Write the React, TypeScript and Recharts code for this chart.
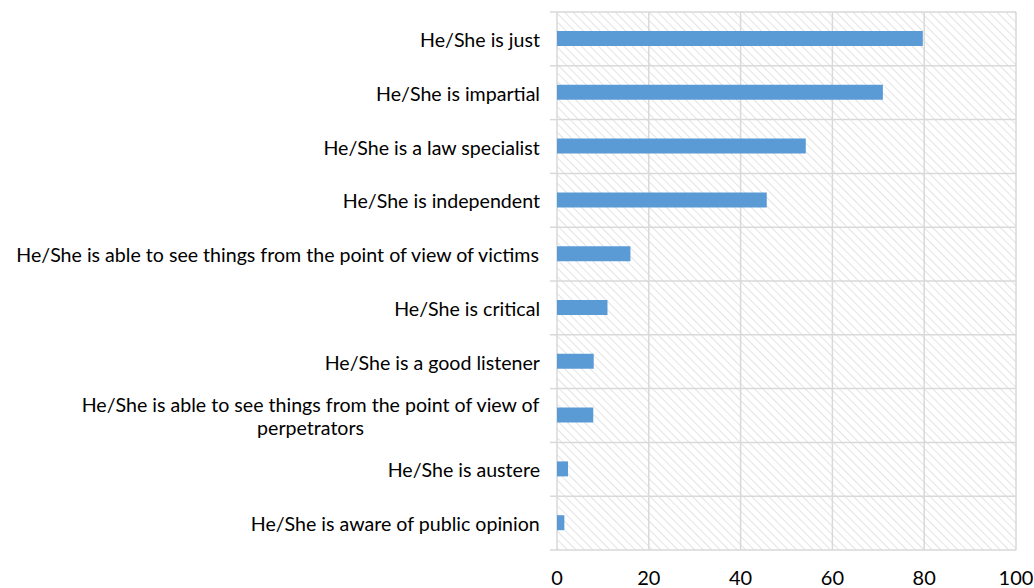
import React from 'react';
import { BarChart, Bar, XAxis, YAxis, CartesianGrid } from 'recharts';

const categories = [
  'He/She is just',
  'He/She is impartial',
  'He/She is a law specialist',
  'He/She is independent',
  'He/She is able to see things from the point of view of victims',
  'He/She is critical',
  'He/She is a good listener',
  'He/She is able to see things from the point of view of perpetrators',
  'He/She is austere',
  'He/She is aware of public opinion',
];
const values = [79.7, 71, 54.2, 45.7, 16, 11, 8, 7.9, 2.4, 1.6];
const xTicks = [0, 20, 40, 60, 80, 100];

const data = categories.map((name, i) => ({ name, value: values[i] }));

const FONT = 'Lato, "Open Sans", sans-serif';
const LABEL_SIZE = 19.6;
const LABEL_MAX = 545;
const LINE_H = 23;

let ctx: CanvasRenderingContext2D | null = null;
function measure(s: string): number {
  if (!ctx) ctx = document.createElement('canvas').getContext('2d');
  if (!ctx) return s.length * 8.5;
  ctx.font = `${LABEL_SIZE}px ${FONT}`;
  return ctx.measureText(s).width;
}

function wrap(label: string): string[] {
  const words = label.split(' ');
  const lines: string[] = [];
  let cur = '';
  for (const w of words) {
    const next = cur ? cur + ' ' + w : w;
    if (cur && measure(next) > LABEL_MAX) {
      lines.push(cur);
      cur = w;
    } else {
      cur = next;
    }
  }
  if (cur) lines.push(cur);
  return lines;
}

// right-aligned label block, wrapped lines centred on each other (like Excel)
function CategoryTick(props: any) {
  const { x, y, payload, index } = props;
  const lines = wrap(String(payload.value));
  const blockW = Math.max(...lines.map(measure));
  const cx = x - blockW / 2;
  const y0 = y - ((lines.length - 1) * LINE_H) / 2;
  const half = payload.offset ?? 26.9;
  return (
    <g>
      <line x1={x + 10} x2={x + 17} y1={y - half} y2={y - half} stroke="#d9d9d9" strokeWidth={1.5} />
      {index === categories.length - 1 && (
        <line x1={x + 10} x2={x + 17} y1={y + half} y2={y + half} stroke="#d9d9d9" strokeWidth={1.5} />
      )}
      <text textAnchor="middle" dominantBaseline="central" fontFamily={FONT} fontSize={LABEL_SIZE} fill="#000">
        {lines.map((l, i) => (
          <tspan key={i} x={cx} y={y0 + i * LINE_H}>
            {l}
          </tspan>
        ))}
      </text>
    </g>
  );
}

export default function App() {
  return (
    <div style={{ position: 'absolute', left: 0, top: 0, width: 1034, height: 588 }}>
      <BarChart
        layout="vertical"
        width={1034}
        height={588}
        data={data}
        margin={{ top: 12, right: 18, bottom: 0, left: 0 }}
      >
        <defs>
          <pattern id="hatch" width="6" height="6" patternUnits="userSpaceOnUse" patternTransform="rotate(-45)">
            <rect width="6" height="6" fill="#fff" />
            <line x1="0" y1="0" x2="0" y2="6" stroke="#dcdcdc" strokeWidth="1.6" />
          </pattern>
        </defs>
        <CartesianGrid
          fill="url(#hatch)"
          fillOpacity={1}
          stroke="#d9d9d9"
          strokeWidth={1.5}
          horizontalCoordinatesGenerator={({ offset }: any) =>
            categories
              .map((_, i) => offset.top + (i * offset.height) / categories.length)
              .concat(offset.top + offset.height)
          }
        />
        <XAxis
          type="number"
          domain={[0, 100]}
          ticks={xTicks}
          axisLine={false}
          tickLine={false}
          tickSize={0}
          tickMargin={21}
          height={38}
          tick={{ fontSize: 20, fill: '#000', fontFamily: FONT }}
        />
        <YAxis
          type="category"
          dataKey="name"
          width={557}
          axisLine={false}
          tickLine={false}
          tickSize={0}
          tickMargin={17}
          interval={0}
          tick={<CategoryTick />}
        />
        <Bar dataKey="value" fill="#5b9bd5" barSize={15} isAnimationActive={false} />
      </BarChart>
    </div>
  );
}
